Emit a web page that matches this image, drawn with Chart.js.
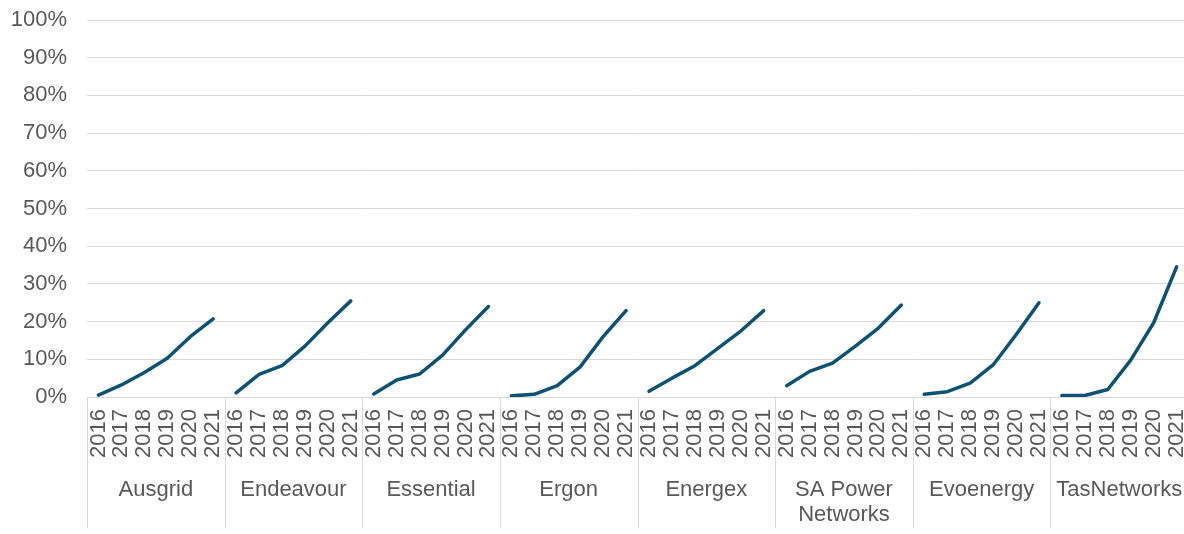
<!DOCTYPE html>
<html>
<head>
<meta charset="utf-8">
<script src="https://cdn.jsdelivr.net/npm/chart.js@4"></script>
<style>
  html, body { margin: 0; padding: 0; background: #fff; overflow: hidden; }
  #wrap { width: 1215px; height: 534px; position: relative; }
</style>
</head>
<body>
<div id="wrap"><canvas id="myChart"></canvas></div>
<script>
var years = ['2016', '2017', '2018', '2019', '2020', '2021'];
var companies = ['Ausgrid', 'Endeavour', 'Essential', 'Ergon', 'Energex', ['SA Power', 'Networks'], 'Evoenergy', 'TasNetworks'];

var ausgrid    = [0.5, 3.2, 6.5, 10.3, 16.0, 20.7];
var endeavour  = [1.1, 6.0, 8.3, 13.5, 19.7, 25.5];
var essential  = [0.8, 4.5, 6.1, 11.1, 17.8, 24.0];
var ergon      = [0.3, 0.7, 3.0, 8.0, 16.0, 22.9];
var energex    = [1.5, 5.0, 8.3, 12.9, 17.5, 22.9];
var saPower    = [3.0, 6.8, 9.0, 13.5, 18.3, 24.4];
var evoenergy  = [0.7, 1.4, 3.7, 8.5, 16.5, 25.0];
var tasNetworks = [0.4, 0.4, 2.0, 9.8, 19.7, 34.5];

var series = [ausgrid, endeavour, essential, ergon, energex, saPower, evoenergy, tasNetworks];

var textColor = '#595959';
var gridColor = '#d9d9d9';
var lineColor = '#0d5273';

// one long category axis, each company gets its own six slots
var labels = [];
companies.forEach(function () { labels = labels.concat(years); });

var datasets = series.map(function (vals, k) {
    var data = labels.map(function () { return null; });
    vals.forEach(function (v, i) { data[k * years.length + i] = v; });
    return {
        label: Array.isArray(companies[k]) ? companies[k].join(' ') : companies[k],
        data: data,
        borderColor: lineColor,
        borderWidth: 3.5,
        borderCapStyle: 'round',
        borderJoinStyle: 'round',
        pointRadius: 0,
        tension: 0,
        spanGaps: false
    };
});

var groupPlugin = {
    id: 'groups',
    afterDraw: function (chart) {
        var ctx = chart.ctx;
        var x = chart.scales.x;
        var top = chart.chartArea.bottom;
        var step = x.getPixelForValue(1) - x.getPixelForValue(0);
        ctx.save();
        ctx.strokeStyle = gridColor;
        ctx.lineWidth = 1;
        for (var k = 0; k <= companies.length; k++) {
            var sx = Math.round(x.getPixelForValue(k * years.length) - step / 2) + 0.5;
            ctx.beginPath();
            ctx.moveTo(sx, top);
            ctx.lineTo(sx, top + 131);
            ctx.stroke();
        }
        ctx.fillStyle = textColor;
        ctx.font = '22px "Liberation Sans", Arial, sans-serif';
        ctx.textAlign = 'center';
        ctx.textBaseline = 'middle';
        companies.forEach(function (name, k) {
            var cx = (x.getPixelForValue(k * years.length) + x.getPixelForValue(k * years.length + years.length - 1)) / 2;
            var lines = Array.isArray(name) ? name : [name];
            lines.forEach(function (ln, j) {
                ctx.fillText(ln, cx, top + 93 + j * 25);
            });
        });
        ctx.restore();
    }
};

var ctx = document.getElementById('myChart').getContext('2d');
var myChart = new Chart(ctx, {
    type: 'line',
    data: {
        labels: labels,
        datasets: datasets
    },
    options: {
        responsive: true,
        maintainAspectRatio: false,
        animation: false,
        layout: {
            padding: { top: 20, right: 0, bottom: 0, left: 0 }
        },
        plugins: {
            legend: { display: false },
            tooltip: { enabled: false }
        },
        scales: {
            x: {
                offset: true,
                grid: { display: false, drawTicks: false },
                border: { display: false },
                ticks: {
                    autoSkip: false,
                    minRotation: 90,
                    maxRotation: 90,
                    padding: 12,
                    color: textColor,
                    font: { family: '"Liberation Sans", Arial, sans-serif', size: 22 }
                },
                afterFit: function (scale) { scale.height = 137; }
            },
            y: {
                min: 0,
                max: 100,
                grid: { color: gridColor, drawTicks: false },
                border: { display: false },
                ticks: {
                    stepSize: 10,
                    padding: 20,
                    color: textColor,
                    font: { family: '"Liberation Sans", Arial, sans-serif', size: 22 },
                    callback: function (v) { return v + '%'; }
                },
                afterFit: function (scale) {
                    scale.width = 87;
                    scale.paddingTop = 0;
                    scale.paddingBottom = 0;
                }
            }
        }
    },
    plugins: [groupPlugin]
});
</script>
</body>
</html>
